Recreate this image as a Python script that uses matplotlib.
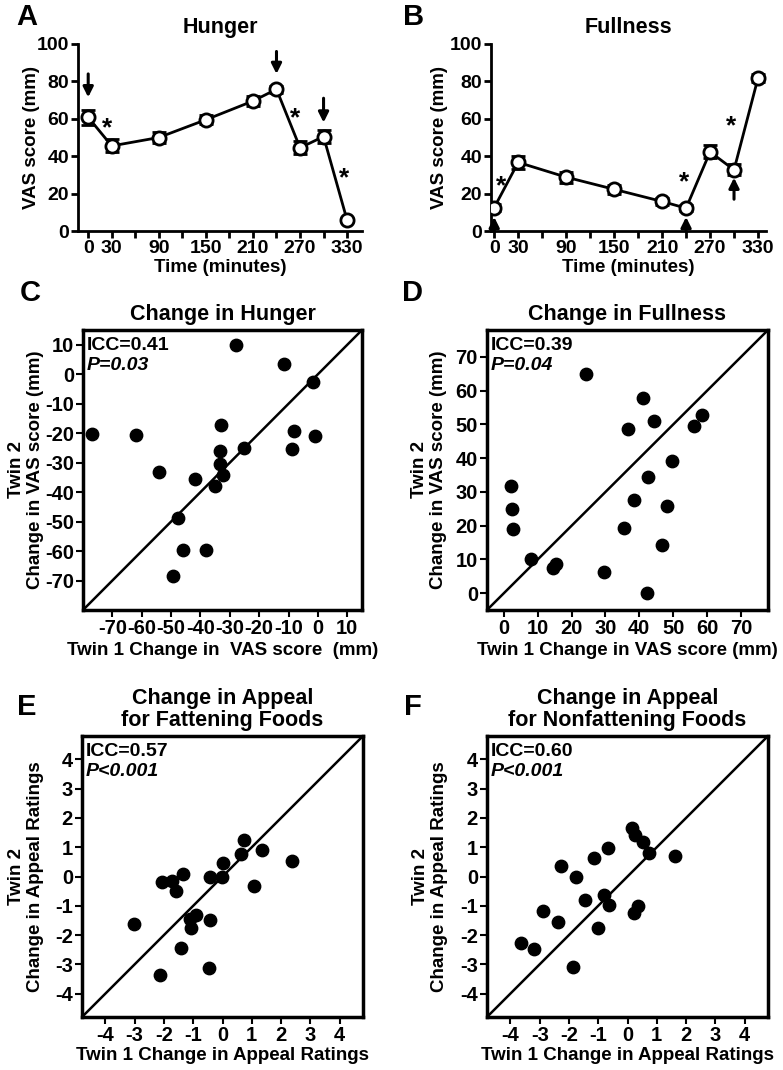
import matplotlib
matplotlib.use('Agg')
import matplotlib.pyplot as plt
import numpy as np

plt.rcParams['font.family'] = ['Liberation Sans', 'DejaVu Sans']
plt.rcParams['font.weight'] = 'bold'
plt.rcParams['axes.unicode_minus'] = False

# ---- panel A / B : time course ----
time_min = [0, 30, 90, 150, 210, 240, 270, 300, 330]
hunger = [60.8, 45.5, 50, 59.5, 69.5, 75.8, 44.5, 50.5, 5.8]
hunger_err = [4, 3.5, 3, 2.5, 2.5, 2, 3.5, 3.5, 1]
fullness = [12.5, 36.7, 28.8, 22.3, 15.8, 12.2, 42.3, 32.7, 81.8]
fullness_err = [2, 3.5, 3, 2.5, 2, 1.5, 3.5, 3, 2]

# arrows (x, y_from, y_to) and asterisks (x, y)
hunger_arrows = [(0, 84, 71.5), (240, 96, 84), (300, 71, 58)]
hunger_stars = [(24, 55), (264, 60), (326, 28)]
full_arrows = [(0, 0, 7.5), (240, 0, 7.5), (300, 17, 28.5)]
full_stars = [(9, 24), (238, 26), (296, 56)]

# ---- panel C: change in hunger (mm) ----
hunger_twin1 = [-76.9, -62, -54.1, -41.8, -47.5, -46.1, -49.3, -38.2, -35.2, -33.1,
                -33.3, -33.4, -32.4, -28, -25.2, -11.6, -1.6, -8.2, -9, -0.9]
hunger_twin2 = [-20.3, -20.6, -33.1, -35.7, -48.8, -59.7, -68.4, -59.7, -37.8, -17.2,
                -26, -30.6, -34.3, 9.8, -25.1, 3.3, -2.5, -19.1, -25.5, -21.1]

# ---- panel D: change in fullness (mm) ----
full_twin1 = [2.2, 2.5, 2.7, 7.9, 14.6, 15.5, 24.3, 29.7, 35.5, 36.7,
              38.3, 41.1, 42.7, 42.4, 44.4, 48.2, 49.5, 46.7, 56.2, 58.4]
full_twin2 = [31.8, 24.9, 19, 10.2, 7.4, 8.6, 64.9, 6.3, 19.2, 48.8,
              27.5, 57.8, 34.4, 0, 50.9, 25.9, 39.2, 14.4, 49.5, 52.8]

# ---- panel E: fattening foods appeal ----
fat_twin1 = [-3.03, -2.15, -2.06, -1.73, -1.58, -1.36, -1.41, -1.12, -1.06, -0.9,
             -0.43, -0.47, -0.41, -0.01, 0.0, 0.64, 0.73, 1.34, 1.07, 2.38]
fat_twin2 = [-1.63, -3.38, -0.18, -0.16, -0.5, 0.07, -2.45, -1.46, -1.77, -1.31,
             -1.5, -3.12, -0.02, -0.02, 0.46, 0.76, 1.24, 0.91, -0.34, 0.53]

# ---- panel F: nonfattening foods appeal ----
nonfat_twin1 = [-3.65, -3.2, -2.88, -2.37, -2.27, -1.77, -1.87, -1.45, -1.14, -1.01,
                -0.81, -0.65, -0.63, 0.15, 0.24, 0.53, 0.74, 0.21, 0.35, 1.63]
nonfat_twin2 = [-2.28, -2.48, -1.17, -1.54, 0.36, -0.01, -3.08, -0.79, 0.62, -1.77,
                -0.63, 0.99, -0.97, 1.64, 1.43, 1.19, 0.8, -1.25, -1.02, 0.69]

W, H = 783, 1070
fig = plt.figure(figsize=(W / 100, H / 100), dpi=100)


def ax_at(l, t, r, b):
    return fig.add_axes([l / W, 1 - b / H, (r - l) / W, (b - t) / H])


def time_panel(ax, y, yerr, arrows, stars, title, xlim, ylab_x):
    ax.errorbar(time_min, y, yerr=yerr, color='k', lw=2, capsize=5, capthick=2.5,
                elinewidth=2, marker='o', ms=9.5, mfc='white', mec='k', mew=2, zorder=3)
    for x, y0, y1 in arrows:
        ax.annotate('', xy=(x, y1), xytext=(x, y0),
                    arrowprops=dict(arrowstyle='-|>', color='k', lw=2.2, mutation_scale=15,
                                    shrinkA=0, shrinkB=0))
    for x, yy in stars:
        ax.text(x, yy, '*', fontsize=19, ha='center', va='center', fontweight='bold')
    ax.set_xlim(*xlim)
    ax.set_ylim(0, 100)
    ax.spines['top'].set_visible(False)
    ax.spines['right'].set_visible(False)
    for s in ['left', 'bottom']:
        ax.spines[s].set_linewidth(2)
    yt = [0, 20, 40, 60, 80, 100]
    ax.set_yticks(yt, [str(v) for v in yt], fontsize=14, fontweight='bold')
    ticks = np.arange(0, 331, 30)
    ax.set_xticks(ticks, [str(t) if t in (0, 30, 90, 150, 210, 270, 330) else '' for t in ticks],
                  fontsize=14, fontweight='bold')
    ax.tick_params(direction='out', length=5, width=2, pad=1.5)
    ax.set_xlabel('Time (minutes)', fontsize=13.5, fontweight='bold')
    ax.xaxis.set_label_coords(0.5, -0.15)
    ax.set_ylabel('VAS score (mm)', fontsize=13.5, fontweight='bold')
    ax.yaxis.set_label_coords(ylab_x, 0.5)
    ax.set_title(title, fontsize=15.5, fontweight='bold', pad=8)


def scatter_panel(ax, x, y, lim, ticks, title, icc, p, xlabel, ylabel, ylab_x, xlab_y):
    ax.plot(lim, lim, color='k', lw=1.8, zorder=1)
    ax.scatter(x, y, s=80, color='k', zorder=3)
    ax.set_xlim(*lim)
    ax.set_ylim(*lim)
    labels = [str(int(t)) for t in ticks]
    ax.set_xticks(ticks, labels, fontsize=14.5, fontweight='bold')
    ax.set_yticks(ticks, labels, fontsize=14.5, fontweight='bold')
    for s in ax.spines.values():
        s.set_linewidth(2.5)
    ax.tick_params(direction='out', length=5, width=1.5, pad=1.5)
    ax.text(0.012, 0.975, icc, transform=ax.transAxes, fontsize=14, fontweight='bold',
            va='top', ha='left')
    ax.text(0.012, 0.905, p, transform=ax.transAxes, fontsize=14, fontweight='bold',
            style='italic', va='top', ha='left')
    ax.set_title(title, fontsize=15.5, fontweight='bold', pad=7, linespacing=1.05)
    ax.set_xlabel(xlabel, fontsize=13.5, fontweight='bold')
    ax.xaxis.set_label_coords(0.5, xlab_y)
    ax.set_ylabel(ylabel, fontsize=13.5, fontweight='bold', linespacing=1.15)
    ax.yaxis.set_label_coords(ylab_x, 0.5)


axA = ax_at(78, 44, 362, 231)
time_panel(axA, hunger, hunger_err, hunger_arrows, hunger_stars, 'Hunger', (-13, 349), -0.135)
axB = ax_at(491, 44, 766, 231)
time_panel(axB, fullness, fullness_err, full_arrows, full_stars, 'Fullness', (-4, 340), -0.155)

axC = ax_at(83, 330, 362, 610)
scatter_panel(axC, hunger_twin1, hunger_twin2, (-80, 15), np.arange(-70, 11, 10),
              'Change in Hunger', 'ICC=0.41', 'P=0.03',
              'Twin 1 Change in  VAS score  (mm)', 'Twin 2\nChange in VAS score (mm)',
              -0.14, -0.115)
axD = ax_at(487, 330, 768, 610)
scatter_panel(axD, full_twin1, full_twin2, (-5, 78), np.arange(0, 71, 10),
              'Change in Fullness', 'ICC=0.39', 'P=0.04',
              'Twin 1 Change in VAS score (mm)', 'Twin 2\nChange in VAS score (mm)',
              -0.142, -0.115)
axE = ax_at(82, 736, 363, 1017)
scatter_panel(axE, fat_twin1, fat_twin2, (-4.8, 4.8), np.arange(-4, 5, 1),
              'Change in Appeal\nfor Fattening Foods', 'ICC=0.57', 'P<0.001',
              'Twin 1 Change in Appeal Ratings', 'Twin 2\nChange in Appeal Ratings',
              -0.135, -0.108)
axF = ax_at(487, 736, 768, 1017)
scatter_panel(axF, nonfat_twin1, nonfat_twin2, (-4.8, 4.8), np.arange(-4, 5, 1),
              'Change in Appeal\nfor Nonfattening Foods', 'ICC=0.60', 'P<0.001',
              'Twin 1 Change in Appeal Ratings', 'Twin 2\nChange in Appeal Ratings',
              -0.139, -0.108)

for letter, px, py in [('A', 27, 17), ('B', 414, 17), ('C', 30, 293),
                       ('D', 413, 293), ('E', 27, 707), ('F', 413, 707)]:
    fig.text(px / W, 1 - py / H, letter, fontsize=21, fontweight='bold',
             ha='center', va='center')

fig.savefig('out.png', dpi=100)
plt.close(fig)
